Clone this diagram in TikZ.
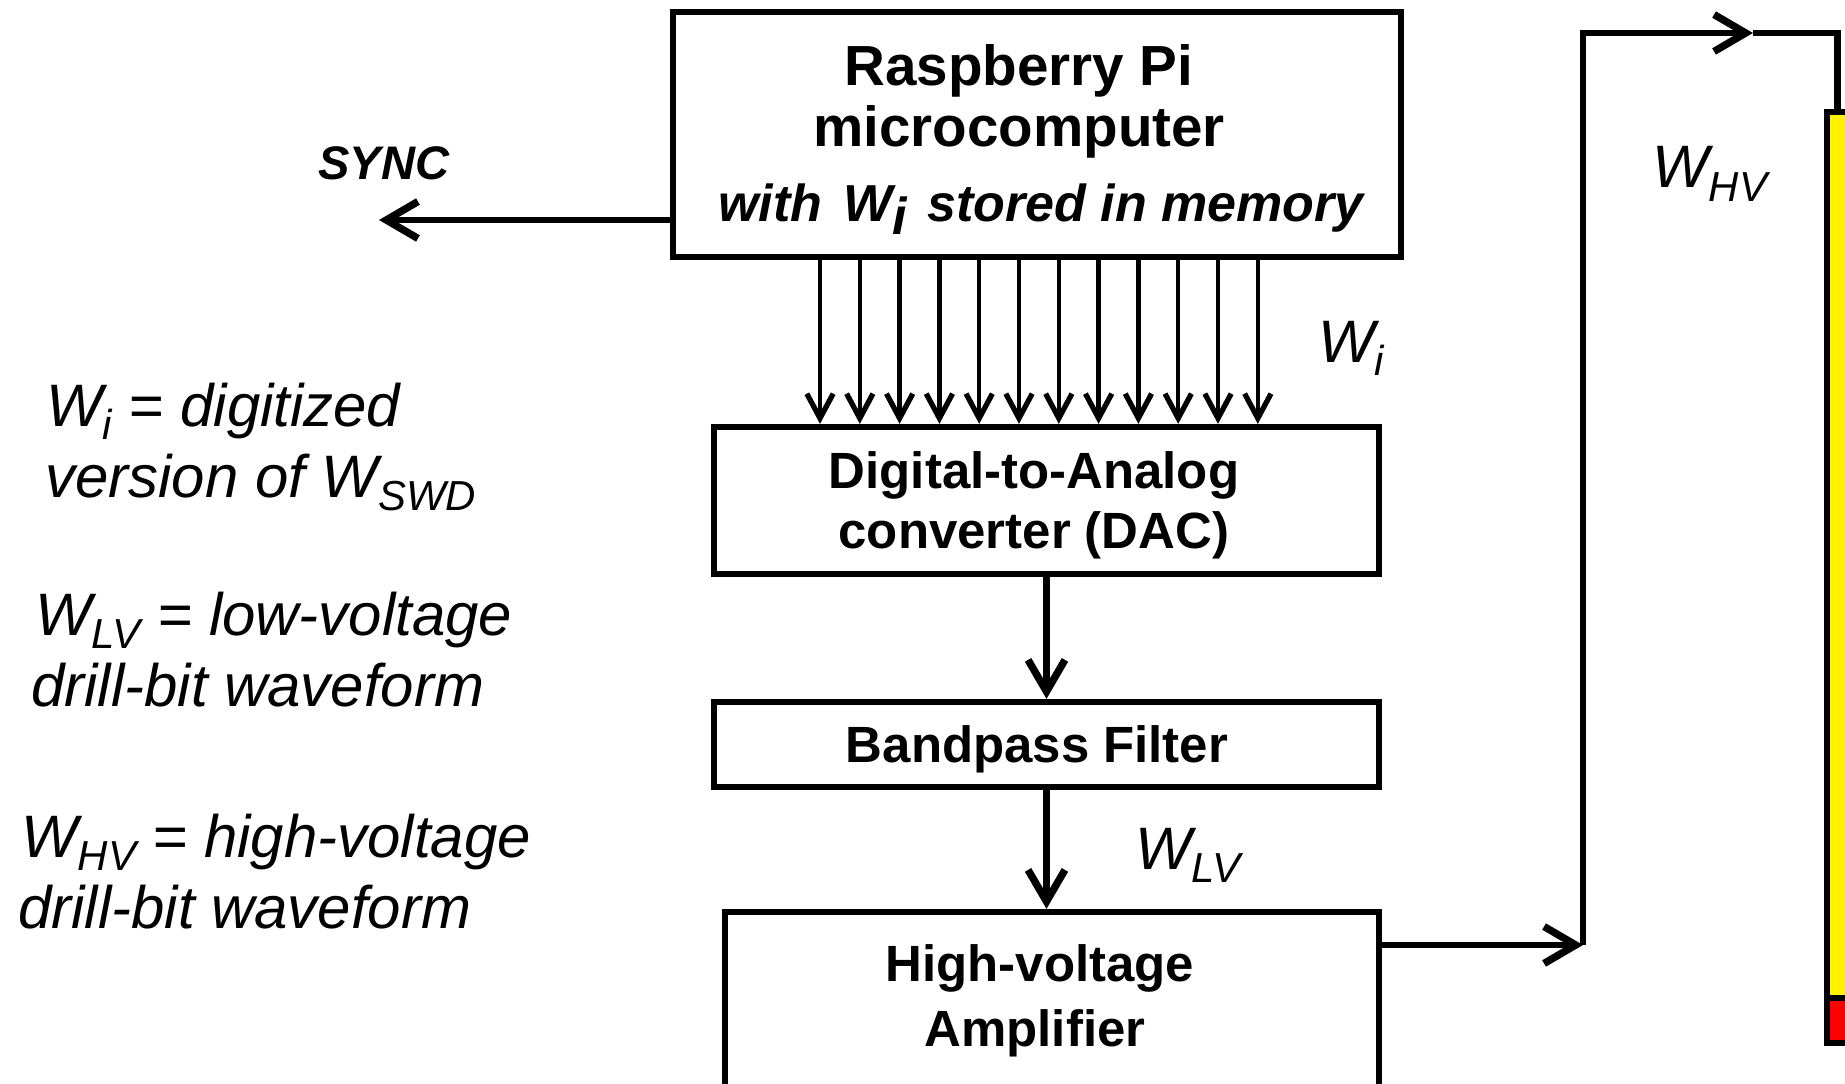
\documentclass[tikz,border=0pt]{standalone}
\usepackage{fontspec}
\setmainfont{Liberation Sans}
\usetikzlibrary{arrows.meta,calc}
\newcommand\fsz[2]{\fontsize{#1pt}{#2pt}\selectfont}
\newcommand\sbs[1]{\raisebox{-0.22em}{\scalebox{0.7}{#1}}}
\newcommand\padr[1]{\rule{#1}{0pt}}
\newcommand\tstrut[1]{\rule{0pt}{\dimexpr0.73em+#1\relax}}
\begin{document}
\begin{tikzpicture}[x=0.02cm,y=-0.02cm,
  box/.style={draw, line width=3.6pt, rectangle, align=center, inner sep=0pt},
  conn/.style={line width=3.6pt, -{Straight Barb[length=18pt,width=21pt,line width=4.2pt]}},
  plain/.style={line width=3.6pt},
  bus/.style={line width=2.5pt, -{Straight Barb[length=14pt,width=15pt,line width=3pt]}},
  lbl/.style={inner sep=0pt, anchor=base west, font=\itshape\fsz{34.1}{40.4}}]
\useasboundingbox (0,0) rectangle (1845,1084);
\clip (0,0) rectangle (1845,1084);

% blocks
\node[box, font=\bfseries\fsz{32.2}{34.7}, minimum width=14.56cm, minimum height=4.9cm] (pi) at (1037,134.5)
  {\tstrut{5.7pt}Raspberry Pi\padr{0.72cm}\\ microcomputer\padr{0.72cm}\\[8pt]
   {\fsz{29.6}{34.7}\bfseries\itshape\padr{0.16cm}with\hspace{0.4em}W\raisebox{-0.25em}{i}\hspace{0.4em}stored in memory}};
\node[box, font=\bfseries\fsz{29}{34.1}, minimum width=13.3cm, minimum height=2.94cm] (dac) at (1046.5,500.5)
  {\tstrut{5.7pt}Digital-to-Analog\padr{0.5cm}\\ converter (DAC)\padr{0.5cm}};
\node[box, font=\bfseries\fsz{29}{34.1}, minimum width=13.3cm, minimum height=1.7cm] (bpf) at (1046.5,744.5)
  {\tstrut{5.7pt}Bandpass Filter\padr{0.38cm}};
\node[box, font=\bfseries\fsz{29}{37}, minimum width=13.08cm, minimum height=3.54cm] (amp) at (1052,1000.5)
  {High-voltage\padr{0.48cm}\\ Amplifier\padr{0.68cm}};

% drill bit bar
\node[draw, line width=3pt, fill=yellow, minimum width=0.42cm, minimum height=18.62cm, inner sep=0pt] (bar) at (1837.5,577.5) {};
\draw[line width=3pt, fill=red] (1827,998) rectangle (1848,1043);

% bus arrows
\foreach \k in {0,...,11} {
  \coordinate (bx\k) at ({820+39.8*\k},0);
  \draw[bus] (bx\k |- pi.south) -- (bx\k |- dac.north);
}

% connectors
\draw[conn] (dac) -- (bpf);
\draw[conn] (bpf.south) -- (bpf.south |- amp.north);

\coordinate (synctip) at (379,220);
\draw[conn] (synctip -| pi.west) -- (synctip);
\node[inner sep=0pt, anchor=base west, font=\bfseries\itshape\fsz{26.8}{30}] (sync) at (318,180) {SYNC};

\coordinate (hvcorner) at (1583,945);
\coordinate (hvmid) at (1753,33);
\draw[conn] (hvcorner -| amp.east) -- (hvcorner);
\draw[conn, line join=miter] (hvcorner) |- (hvmid);
\draw[plain, line join=miter] (hvmid) -| (bar.north);

% signal labels
\node[lbl] (wilbl) at (1318,362) {W\sbs{i}};
\node[lbl] (wlvlbl) at (1135,869) {W\sbs{LV}};
\node[lbl] (whvlbl) at (1652,188) {W\sbs{HV}};

% legend
\node[lbl] (leg1a) at (46,426) {W\sbs{i} = digitized};
\node[lbl] (leg1b) at (45,497) {version of W\sbs{SWD}};
\node[lbl] (leg2a) at (35,635) {W\sbs{LV} = low-voltage};
\node[lbl] (leg2b) at (31,706) {drill-bit waveform};
\node[lbl] (leg3a) at (21,857) {W\sbs{HV} = high-voltage};
\node[lbl] (leg3b) at (18,928) {drill-bit waveform};
\end{tikzpicture}
\end{document}
